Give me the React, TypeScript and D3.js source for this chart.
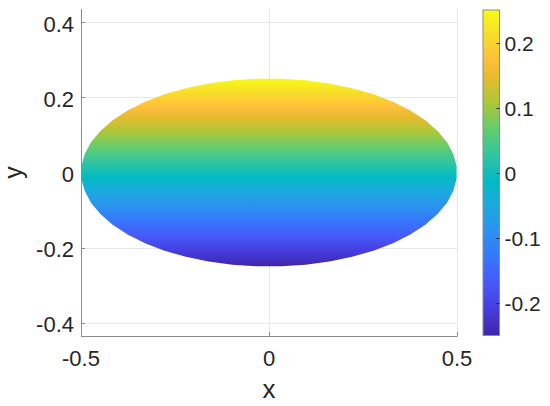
import React from 'react';
import * as d3 from 'd3';

// axis limits (axis equal), colour limits
const xLimits = [-0.5, 0.5];
const yLimits = [-0.435, 0.435];
const colorLimits = [-0.25, 0.25];

// ticks
const xTicks = [-0.5, 0, 0.5];
const xTickLabels = ['-0.5', '0', '0.5'];
const yTicks = [-0.4, -0.2, 0, 0.2, 0.4];
const yTickLabels = ['-0.4', '-0.2', '0', '0.2', '0.4'];
const colorTicks = [-0.2, -0.1, 0, 0.1, 0.2];
const colorTickLabels = ['-0.2', '-0.1', '0', '0.1', '0.2'];

// the patch: ellipse semi-axes (x, y) and number of boundary vertices
const ellipseRadii = [0.5, 0.25];
const ellipseVertexCount = 48;

// parula colormap, sampled
const parulaColors = ['#3e26a8', '#463cde', '#4758f8', '#3875fe', '#2b91ef', '#1ca9df', '#02bac3',
  '#31c69f', '#64cd6f', '#abc739', '#e6bb2d', '#febe3c', '#fec934', '#f7dc2a', '#f9fb15'];
const parulaIdx = [0, 5, 10, 15, 20, 25, 30, 35, 40, 45, 50, 53, 55, 58, 63];

const W = 550;
const H = 406;
const font = '"Liberation Sans", Arial, Helvetica, sans-serif';
const ink = '#262626';

export default function App() {
  // plot box
  const left = 81, right = 457, top = 9, bottom = 336;
  const x = d3.scaleLinear().domain(xLimits).range([left, right]);
  const y = d3.scaleLinear().domain(yLimits).range([bottom, top]);

  // colorbar box
  const cbLeft = 483, cbRight = 499.5, cbTop = 10, cbBottom = 335.5;
  const cy = d3.scaleLinear().domain(colorLimits).range([cbBottom, cbTop]);

  const stops = parulaIdx.map((k, i) => ({ offset: k / 63, color: parulaColors[i] }));

  // vertices offset by half a step, so both tips end in a short flat edge
  const step = (2 * Math.PI) / ellipseVertexCount;
  const angles = d3.range(ellipseVertexCount).map(k => step * (k + 0.5));
  const pts: [number, number][] = angles.map(a => [
    x(ellipseRadii[0] * Math.cos(a)),
    y(ellipseRadii[1] * Math.sin(a)),
  ]);
  const ellipsePath = d3.line()(pts) + 'Z';

  const tickLen = 4;
  const gridColor = '#e8e8e8';
  const axisColor = '#8c8c8c';

  return (
    <svg width={W} height={H} style={{ position: 'absolute', left: 0, top: 0, display: 'block' }}
      fontFamily={font}>
      <defs>
        <linearGradient id="fillGrad" gradientUnits="userSpaceOnUse"
          x1={0} x2={0} y1={y(colorLimits[0])} y2={y(colorLimits[1])}>
          {stops.map((s, i) => <stop key={i} offset={s.offset} stopColor={s.color} />)}
        </linearGradient>
        <linearGradient id="cbGrad" gradientUnits="userSpaceOnUse"
          x1={0} x2={0} y1={cy(colorLimits[0])} y2={cy(colorLimits[1])}>
          {stops.map((s, i) => <stop key={i} offset={s.offset} stopColor={s.color} />)}
        </linearGradient>
      </defs>
      <rect width={W} height={H} fill="#fff" />

      {/* grid */}
      <g stroke={gridColor} strokeWidth={1}>
        {yTicks.map(t => (
          <line key={'gy' + t} x1={left} x2={right} y1={Math.round(y(t)) + 0.5} y2={Math.round(y(t)) + 0.5} />
        ))}
        {xTicks.map(t => (
          <line key={'gx' + t} x1={Math.round(x(t)) + 0.5} x2={Math.round(x(t)) + 0.5} y1={top} y2={bottom} />
        ))}
      </g>

      {/* patch coloured by y */}
      <path d={ellipsePath} fill="url(#fillGrad)" stroke="none" />

      {/* axes */}
      <g stroke={axisColor} strokeWidth={1} fill="none">
        <line x1={left + 0.5} x2={left + 0.5} y1={top} y2={bottom + 0.5} />
        <line x1={left} x2={right + 0.5} y1={bottom + 0.5} y2={bottom + 0.5} />
        {yTicks.map(t => (
          <line key={'ty' + t} x1={left} x2={left + tickLen} y1={Math.round(y(t)) + 0.5} y2={Math.round(y(t)) + 0.5} />
        ))}
        {xTicks.map(t => (
          <line key={'tx' + t} x1={Math.round(x(t)) + 0.5} x2={Math.round(x(t)) + 0.5} y1={bottom} y2={bottom - tickLen} />
        ))}
      </g>

      {/* tick labels */}
      <g fill={ink} fontSize={22}>
        {yTicks.map((t, i) => (
          <text key={'ly' + t} x={74} y={y(t) + 9.5} textAnchor="end">{yTickLabels[i]}</text>
        ))}
        {xTicks.map((t, i) => (
          <text key={'lx' + t} x={x(t)} y={366} textAnchor="middle">{xTickLabels[i]}</text>
        ))}
      </g>

      {/* axis labels */}
      <text x={x(0)} y={398} textAnchor="middle" fontSize={26} fill={ink}>x</text>
      <text transform={`translate(21.5,${y(0)}) rotate(-90)`} textAnchor="middle" fontSize={25} fill={ink}>y</text>

      {/* colorbar */}
      <rect x={cbLeft} y={cbTop} width={cbRight - cbLeft} height={cbBottom - cbTop} fill="url(#cbGrad)"
        stroke={axisColor} strokeWidth={1} />
      <g stroke={ink} strokeWidth={1}>
        {colorTicks.map(t => (
          <line key={'tc' + t} x1={cbRight - 3} x2={cbRight} y1={Math.round(cy(t)) + 0.5} y2={Math.round(cy(t)) + 0.5} />
        ))}
      </g>
      <g fill={ink} fontSize={21}>
        {colorTicks.map((t, i) => (
          <text key={'lc' + t} x={504.5} y={cy(t) + 8.5}>{colorTickLabels[i]}</text>
        ))}
      </g>
    </svg>
  );
}
